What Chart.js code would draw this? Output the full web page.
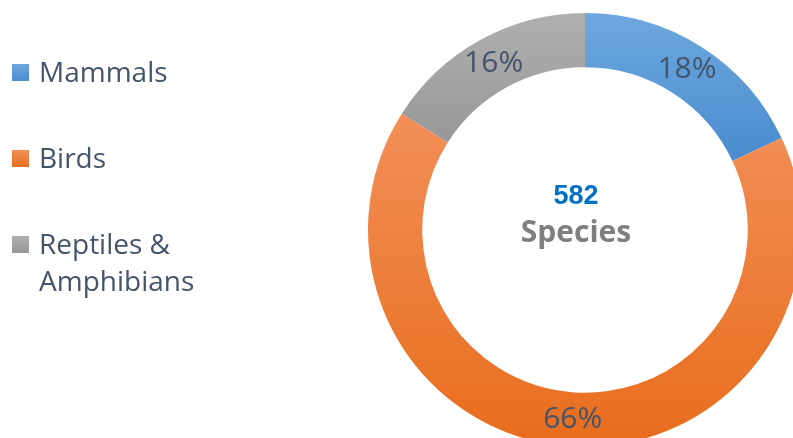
<!DOCTYPE html>
<html>
<head>
<meta charset="utf-8">
<script src="https://cdn.jsdelivr.net/npm/chart.js@4"></script>
<style>
  html, body { margin: 0; padding: 0; background: #fff; overflow: hidden; }
  #wrap { position: absolute; left: 0; top: 0; width: 802px; height: 447px; }
</style>
</head>
<body>
<div id="wrap"><canvas id="donut"></canvas></div>
<script>
// species counts per group (582 total)
const labels = ['Mammals', 'Birds', ['Reptiles &', 'Amphibians']];
const counts = [105, 384, 93];
const totalLabel = 'Species';

// top / bottom colour of each slice gradient
const colorsTop = ['#6ea8de', '#f28f58', '#b0b0b0'];
const colorsBottom = ['#4a8bce', '#e86d1c', '#979797'];
const TEXT = '#44546A';

const total = counts.reduce((a, b) => a + b, 0);

// vertical extent of slice i, so each slice gets its own gradient like the original
function sliceBounds(chart, i) {
  const area = chart.chartArea;
  const cx = (area.left + area.right) / 2;
  const cy = (area.top + area.bottom) / 2;
  const R = Math.min(area.width, area.height) / 2;
  const r = R * 0.75;
  let before = 0;
  for (let k = 0; k < i; k++) before += counts[k];
  const a0 = before / total * Math.PI * 2;
  const a1 = (before + counts[i]) / total * Math.PI * 2;
  let top = Infinity, bottom = -Infinity;
  for (let s = 0; s <= 60; s++) {
    const a = a0 + (a1 - a0) * s / 60;
    [r, R].forEach(rad => {
      const y = cy - rad * Math.cos(a);
      top = Math.min(top, y);
      bottom = Math.max(bottom, y);
    });
  }
  return { top, bottom };
}

function sliceFill(ctx) {
  const chart = ctx.chart;
  const i = ctx.dataIndex;
  if (!chart.chartArea || i === undefined) return colorsTop[i || 0];
  const b = sliceBounds(chart, i);
  const g = chart.ctx.createLinearGradient(0, b.top, 0, b.bottom);
  g.addColorStop(0, colorsTop[i]);
  g.addColorStop(1, colorsBottom[i]);
  return g;
}

const percentLabels = {
  id: 'percentLabels',
  afterDatasetsDraw(chart) {
    const c = chart.ctx;
    const meta = chart.getDatasetMeta(0);
    c.save();
    c.font = '30px "Open Sans"';
    c.fillStyle = TEXT;
    c.textAlign = 'center';
    c.textBaseline = 'middle';
    meta.data.forEach((arc, i) => {
      const p = arc.tooltipPosition();
      c.fillText(Math.round(counts[i] / total * 100) + '%', p.x, p.y);
    });
    c.restore();
  }
};

const centerText = {
  id: 'centerText',
  afterDraw(chart) {
    const c = chart.ctx;
    const x = 576;
    c.save();
    c.textAlign = 'center';
    c.textBaseline = 'middle';
    c.font = 'bold 27px "Liberation Sans"';
    c.fillStyle = '#0070C0';
    c.fillText(String(total), x, 197);
    c.font = 'bold 30px "Open Sans"';
    c.fillStyle = '#7f7f7f';
    c.fillText(totalLabel, x, 233);
    c.restore();
  }
};

const sideLegend = {
  id: 'sideLegend',
  afterDraw(chart) {
    const c = chart.ctx;
    c.save();
    c.font = '28px "Open Sans"';
    c.textAlign = 'left';
    c.textBaseline = 'alphabetic';
    chart.data.labels.forEach((lab, i) => {
      const y = 64 + i * 86;
      const g = c.createLinearGradient(0, y, 0, y + 17);
      g.addColorStop(0, colorsTop[i]);
      g.addColorStop(1, colorsBottom[i]);
      c.fillStyle = g;
      c.fillRect(12, y, 17, 17);
      c.fillStyle = TEXT;
      const lines = Array.isArray(lab) ? lab : [lab];
      lines.forEach((t, j) => c.fillText(t, 39, y + 18 + j * 37));
    });
    c.restore();
  }
};

new Chart(document.getElementById('donut'), {
  type: 'doughnut',
  data: {
    labels: labels,
    datasets: [{
      data: counts,
      backgroundColor: sliceFill,
      borderWidth: 0
    }]
  },
  options: {
    responsive: true,
    maintainAspectRatio: false,
    animation: false,
    cutout: '75%',
    layout: { padding: { left: 368, top: 13, right: 0, bottom: 0 } },
    plugins: {
      legend: { display: false },
      tooltip: { enabled: false }
    }
  },
  plugins: [percentLabels, centerText, sideLegend]
});
</script>
</body>
</html>
